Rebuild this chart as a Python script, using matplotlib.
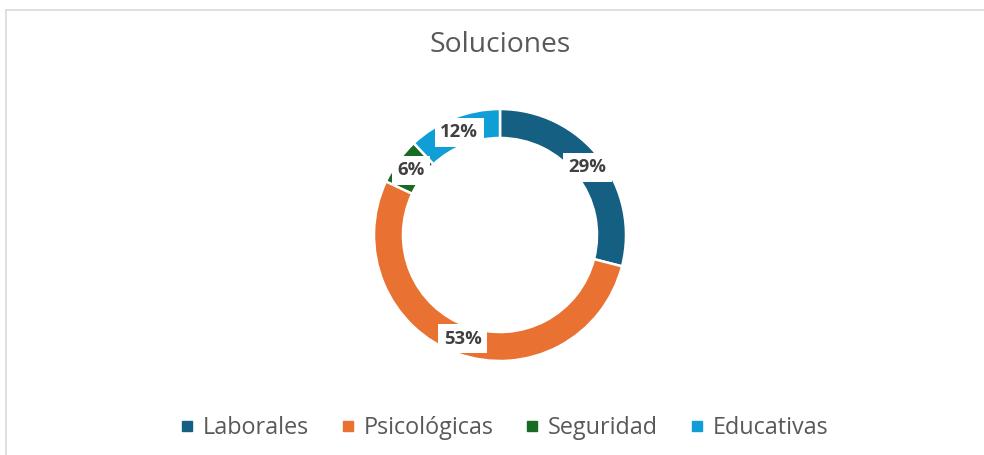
import matplotlib
matplotlib.use('Agg')
from matplotlib import pyplot as plt
from matplotlib.lines import Line2D
import numpy as np

categories = ['Laborales', 'Psicológicas', 'Seguridad', 'Educativas']
values = [29, 53, 6, 12]
colors = ['#156082', '#E97132', '#196B24', '#0F9ED5']

plt.rcParams['font.family'] = ['Open Sans', 'DejaVu Sans']

W, H = 984, 455
fig = plt.figure(figsize=(W / 100, H / 100), dpi=100)
fig.patch.set_facecolor('white')

# borde del área del gráfico (recortado a la derecha y abajo)
fig.add_artist(Line2D([5.5 / W, 5.5 / W], [0, 1 - 9.5 / H], transform=fig.transFigure,
                      color='#d9d9d9', linewidth=1.2))
fig.add_artist(Line2D([5.5 / W, 1], [1 - 9.5 / H, 1 - 9.5 / H], transform=fig.transFigure,
                      color='#d9d9d9', linewidth=1.2))

# donut: centro (500, 235) px, radio 126 px
cx, cy, r = 500, 235, 126
ax = fig.add_axes([(cx - r) / W, (H - cy - r) / H, 2 * r / W, 2 * r / H])
wedges, _ = ax.pie(values, colors=colors, startangle=90, counterclock=False,
                   radius=1, wedgeprops=dict(width=0.23, edgecolor='white', linewidth=1.8))
ax.set_xlim(-1, 1)
ax.set_ylim(-1, 1)
ax.axis('off')

# etiquetas de porcentaje
total = sum(values)
start = 90.0
for v in values:
    ang = np.deg2rad(start - v / total * 360 / 2)
    start -= v / total * 360
    rr = 0.875
    ax.text(rr * np.cos(ang), rr * np.sin(ang), f'{v}%', ha='center', va='center',
            fontsize=13.3, fontweight='bold', color='#404040',
            bbox=dict(boxstyle='square,pad=0.3', facecolor='white', edgecolor='none'))

fig.text(cx / W, 1 - 52 / H, 'Soluciones', ha='center', va='baseline',
         fontsize=20.3, color='#595959')

handles = [Line2D([], [], marker='s', linestyle='none', markersize=7.3,
                  markerfacecolor=c, markeredgecolor=c) for c in colors]
fig.legend(handles, categories, loc='center', bbox_to_anchor=(505 / W, 1 - 428 / H),
           ncol=4, frameon=False, fontsize=16.8, labelcolor='#595959',
           handlelength=0.45, handletextpad=0.43, columnspacing=1.46)

fig.savefig('out.png', dpi=100, facecolor='white')
